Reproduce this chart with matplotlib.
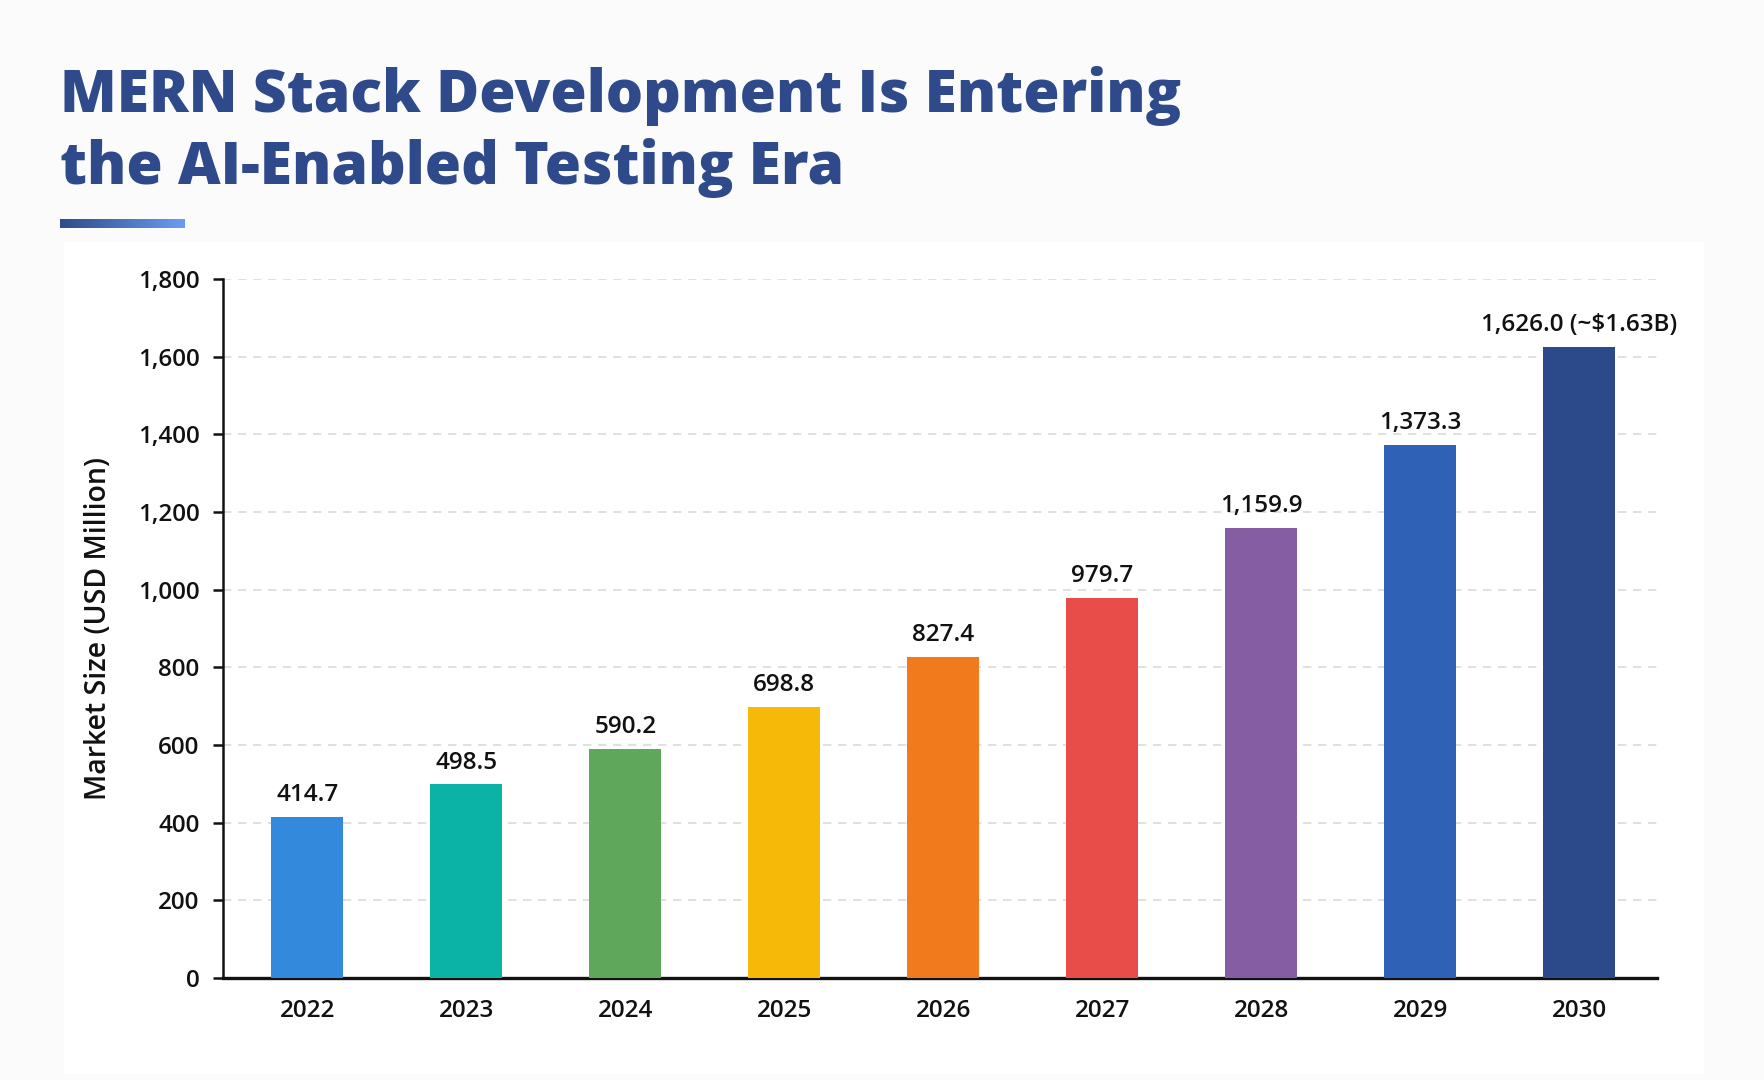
import numpy as np
import matplotlib.pyplot as plt
from matplotlib.patches import Rectangle
from matplotlib.colors import LinearSegmentedColormap

years = ['2022', '2023', '2024', '2025', '2026', '2027', '2028', '2029', '2030']
market_size = [414.7, 498.5, 590.2, 698.8, 827.4, 979.7, 1159.9, 1373.3, 1626.0]
bar_colors = ['#3389DB', '#0BB3A7', '#5FA85B', '#F7B908', '#F07A1C',
              '#E84D49', '#845DA3', '#2F62B6', '#2C4A8A']
value_labels = ['414.7', '498.5', '590.2', '698.8', '827.4', '979.7',
                '1,159.9', '1,373.3', '1,626.0 (~$1.63B)']
y_ticks = [0, 200, 400, 600, 800, 1000, 1200, 1400, 1600, 1800]

title_color = '#2E4A8A'
label_font = 'Open Sans'

fig = plt.figure(figsize=(17.64, 10.8), dpi=100, facecolor='#FBFBFC')

# white card behind the chart
fig.patches.append(Rectangle((64 / 1764, 1 - 1074 / 1080), (1704 - 64) / 1764, (1074 - 242) / 1080,
                             transform=fig.transFigure, facecolor='white', edgecolor='none', zorder=-10))

# title
fig.text(60 / 1764, 1 - 112 / 1080, 'MERN Stack Development Is Entering',
         fontsize=42.3, fontweight='heavy', family='Open Sans', color=title_color, va='baseline')
fig.text(60 / 1764, 1 - 184 / 1080, 'the AI-Enabled Testing Era',
         fontsize=42.3, fontweight='heavy', family='Open Sans', color=title_color, va='baseline')

# gradient underline
bar_ax = fig.add_axes([60 / 1764, 1 - 228 / 1080, 124 / 1764, 9 / 1080])
grad = np.linspace(0, 1, 256).reshape(1, -1)
cmap = LinearSegmentedColormap.from_list('ul', ['#2E4A8A', '#6C9CF2'])
bar_ax.imshow(grad, aspect='auto', cmap=cmap)
bar_ax.axis('off')

ax = fig.add_axes([223 / 1764, 1 - 978 / 1080, (1657 - 223) / 1764, (978 - 279) / 1080])
ax.set_facecolor('white')
x = np.arange(len(years))
bars = ax.bar(x, market_size, width=0.45, color=bar_colors, zorder=3)

for rect, lab in zip(bars, value_labels):
    ax.annotate(lab, (rect.get_x() + rect.get_width() / 2, rect.get_height()),
                xytext=(0, 7), textcoords='offset points', ha='center', va='bottom',
                fontsize=17.5, family=label_font, fontweight='semibold', color='#111111')

ax.set_ylim(0, 1800)
ax.set_xlim(-0.53, 8.49)
ax.set_yticks(y_ticks)
ax.set_yticklabels([f'{v:,}' for v in y_ticks])
ax.set_xticks(x)
ax.set_xticklabels(years)
ax.tick_params(axis='y', length=7, width=1.8, labelsize=17.5, pad=10, colors='#111111')
ax.tick_params(axis='x', length=0, labelsize=17.5, pad=15, colors='#111111')
for lab in ax.get_xticklabels() + ax.get_yticklabels():
    lab.set_family(label_font)
    lab.set_fontweight('semibold')

ax.grid(axis='y', linestyle=(0, (5, 4)), color='#DADADA', linewidth=1.2, zorder=0)
ax.spines['top'].set_visible(False)
ax.spines['right'].set_visible(False)
ax.spines['left'].set_linewidth(1.8)
ax.spines['bottom'].set_linewidth(2.4)
ax.spines['left'].set_color('#111111')
ax.spines['bottom'].set_color('#111111')

ax.set_ylabel('Market Size (USD Million)', fontsize=20.5, family=label_font,
              fontweight='semibold', color='#111111', labelpad=18)

fig.savefig('out.png', dpi=100, facecolor=fig.get_facecolor())
